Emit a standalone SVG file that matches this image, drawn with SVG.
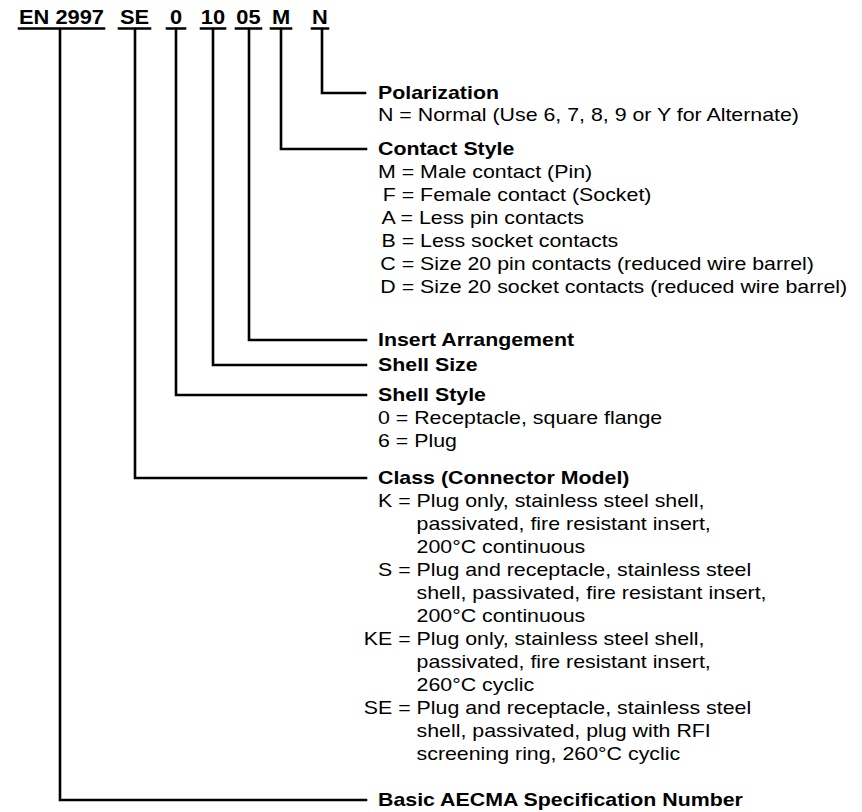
<svg xmlns="http://www.w3.org/2000/svg" width="862" height="812" viewBox="0 0 862 812">
<style>
text{font-family:"Liberation Sans",Arial,Helvetica,sans-serif;fill:#000}
.hd{font-size:21px;font-weight:bold;text-anchor:middle}
.b{font-size:17.5px;font-weight:bold}
.t{font-size:17.5px}
.ln{fill:none;stroke:#000;stroke-width:2.6;stroke-linecap:square;stroke-linejoin:miter}
</style>
<rect width="862" height="812" fill="#fff"/>
<g id="code">
<text class="hd" transform="translate(61.5,24) scale(1.04,1)">EN 2997</text>
<text class="hd" transform="translate(134.5,24) scale(1.04,1)">SE</text>
<text class="hd" transform="translate(176,24) scale(1.04,1)">0</text>
<text class="hd" transform="translate(213,24) scale(1.04,1)">10</text>
<text class="hd" transform="translate(248.5,24) scale(1.04,1)">05</text>
<text class="hd" transform="translate(281,24) scale(1.04,1)">M</text>
<text class="hd" transform="translate(320,24) scale(1.04,1)">N</text>
<path class="ln" d="M19 28.5H104M119 28.5H150M167 28.5H185M201 28.5H225M236 28.5H261M271 28.5H291M312 28.5H328"/>
</g>
<g id="connectors">
<path class="ln" d="M322 29V93H365"/>
<path class="ln" d="M281 29V149H366"/>
<path class="ln" d="M249 29V340H366"/>
<path class="ln" d="M213 29V365H366"/>
<path class="ln" d="M176 29V395H366"/>
<path class="ln" d="M135 29V478H366"/>
<path class="ln" d="M60 29V800H366"/>
</g>
<g id="polarization" transform="translate(378,0) scale(1.22,1)">
<text class="b" x="0" y="99">Polarization</text>
<text class="t" x="0" y="121">N = Normal (Use 6, 7, 8, 9 or Y for Alternate)</text>
</g>
<g id="contact-style" transform="translate(378,0) scale(1.22,1)">
<text class="b" x="0" y="155">Contact Style</text>
<text class="t" x="0" y="178">M = Male contact (Pin)</text>
<text class="t" x="3.9" y="201">F = Female contact (Socket)</text>
<text class="t" x="2.9" y="224">A = Less pin contacts</text>
<text class="t" x="2.9" y="247">B = Less socket contacts</text>
<text class="t" x="1.9" y="270">C = Size 20 pin contacts (reduced wire barrel)</text>
<text class="t" x="1.9" y="293">D = Size 20 socket contacts (reduced wire barrel)</text>
</g>
<g id="insert-arrangement" transform="translate(378,0) scale(1.22,1)">
<text class="b" x="0" y="346">Insert Arrangement</text>
</g>
<g id="shell-size" transform="translate(378,0) scale(1.22,1)">
<text class="b" x="0" y="371">Shell Size</text>
</g>
<g id="shell-style" transform="translate(378,0) scale(1.22,1)">
<text class="b" x="0" y="401">Shell Style</text>
<text class="t" x="0" y="424">0 = Receptacle, square flange</text>
<text class="t" x="0" y="447">6 = Plug</text>
</g>
<g id="class" transform="translate(378,0) scale(1.22,1)">
<text class="b" x="0" y="484">Class (Connector Model)</text>
<text class="t" x="0" y="507">K = Plug only, stainless steel shell,</text>
<text class="t" x="31.6" y="530">passivated, fire resistant insert,</text>
<text class="t" x="31.6" y="553">200°C continuous</text>
<text class="t" x="0" y="576">S = Plug and receptacle, stainless steel</text>
<text class="t" x="31.6" y="599">shell, passivated, fire resistant insert,</text>
<text class="t" x="31.6" y="622">200°C continuous</text>
<text class="t" x="-11.7" y="645">KE = Plug only, stainless steel shell,</text>
<text class="t" x="31.6" y="668">passivated, fire resistant insert,</text>
<text class="t" x="31.6" y="691">260°C cyclic</text>
<text class="t" x="-11.7" y="714">SE = Plug and receptacle, stainless steel</text>
<text class="t" x="31.6" y="737">shell, passivated, plug with RFI</text>
<text class="t" x="31.6" y="760">screening ring, 260°C cyclic</text>
</g>
<g id="basic" transform="translate(378,0) scale(1.22,1)">
<text class="b" x="0" y="806">Basic AECMA Specification Number</text>
</g>
</svg>
